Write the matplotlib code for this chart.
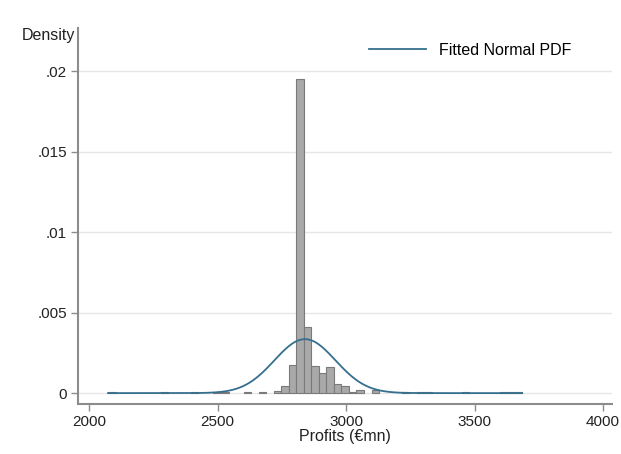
import matplotlib.pyplot as plt
import numpy as np

plt.rcParams['font.family'] = ['Liberation Sans', 'DejaVu Sans']

# histogram: 55 bins of equal width between the data min and max
x_min, x_max = 2074, 3685
n_bins = 55
# bin index -> density (bins not listed are empty)
bin_idx = [0, 7, 11, 14, 15, 18, 20, 22, 23, 24, 25, 26, 27, 28, 29, 30, 31,
           32, 33, 35, 39, 41, 42, 47, 52, 53, 54]
density = [0.00008, 0.00006, 0.00006, 0.00005, 0.00006, 0.00008, 0.00005,
           0.00012, 0.00043, 0.00174, 0.0195, 0.0041, 0.00168, 0.00122,
           0.00163, 0.00056, 0.00043, 0.00005, 0.0002, 0.0002, 0.0001,
           0.00008, 0.00006, 0.00006, 0.00007, 0.00007, 0.00007]

# fitted normal
mu, sigma = 2840, 119

x_ticks = [2000, 2500, 3000, 3500, 4000]
y_ticks = [0, 0.005, 0.01, 0.015, 0.02]
y_ticklabels = ['0', '.005', '.01', '.015', '.02']

width = (x_max - x_min) / n_bins
lefts = x_min + width * np.array(bin_idx)

fig = plt.figure(figsize=(6.21, 4.54), dpi=100)
ax = fig.add_axes([0.1256, 0.110, 0.86, 0.828])

ax.bar(lefts, density, width=width, align='edge', color='#a9a9a9',
       edgecolor='#7a7a7a', linewidth=0.8, zorder=2)

xs = np.linspace(x_min, x_max, 400)
pdf = np.exp(-0.5 * ((xs - mu) / sigma) ** 2) / (sigma * np.sqrt(2 * np.pi))
ax.plot(xs, pdf, color='#356f8f', linewidth=1.3, zorder=3,
        label='Fitted Normal PDF')

ax.set_xlim(1957, 4035)
ax.set_ylim(-0.00068, 0.02267)
ax.set_xticks(x_ticks)
ax.set_yticks(y_ticks)
ax.set_yticklabels(y_ticklabels)
ax.grid(axis='y', color='#e6e6e6', linewidth=1, zorder=0)
ax.set_axisbelow(True)

for s in ['top', 'right']:
    ax.spines[s].set_visible(False)
for s in ['left', 'bottom']:
    ax.spines[s].set_color('#8c8c8c')
    ax.spines[s].set_linewidth(1.5)
ax.tick_params(colors='#8c8c8c', labelcolor='#222222', labelsize=11,
               length=5, width=1, pad=3)

ax.set_xlabel('Profits (€mn)', fontsize=11.5, color='#222222', labelpad=0)
fig.text(0.035, 0.921, 'Density', fontsize=11.5, color='#222222', va='center')

ax.legend(loc='upper right', bbox_to_anchor=(0.951, 1.0), frameon=False,
          fontsize=11.5, handlelength=3.6)

fig.savefig('out.png', dpi=100)
